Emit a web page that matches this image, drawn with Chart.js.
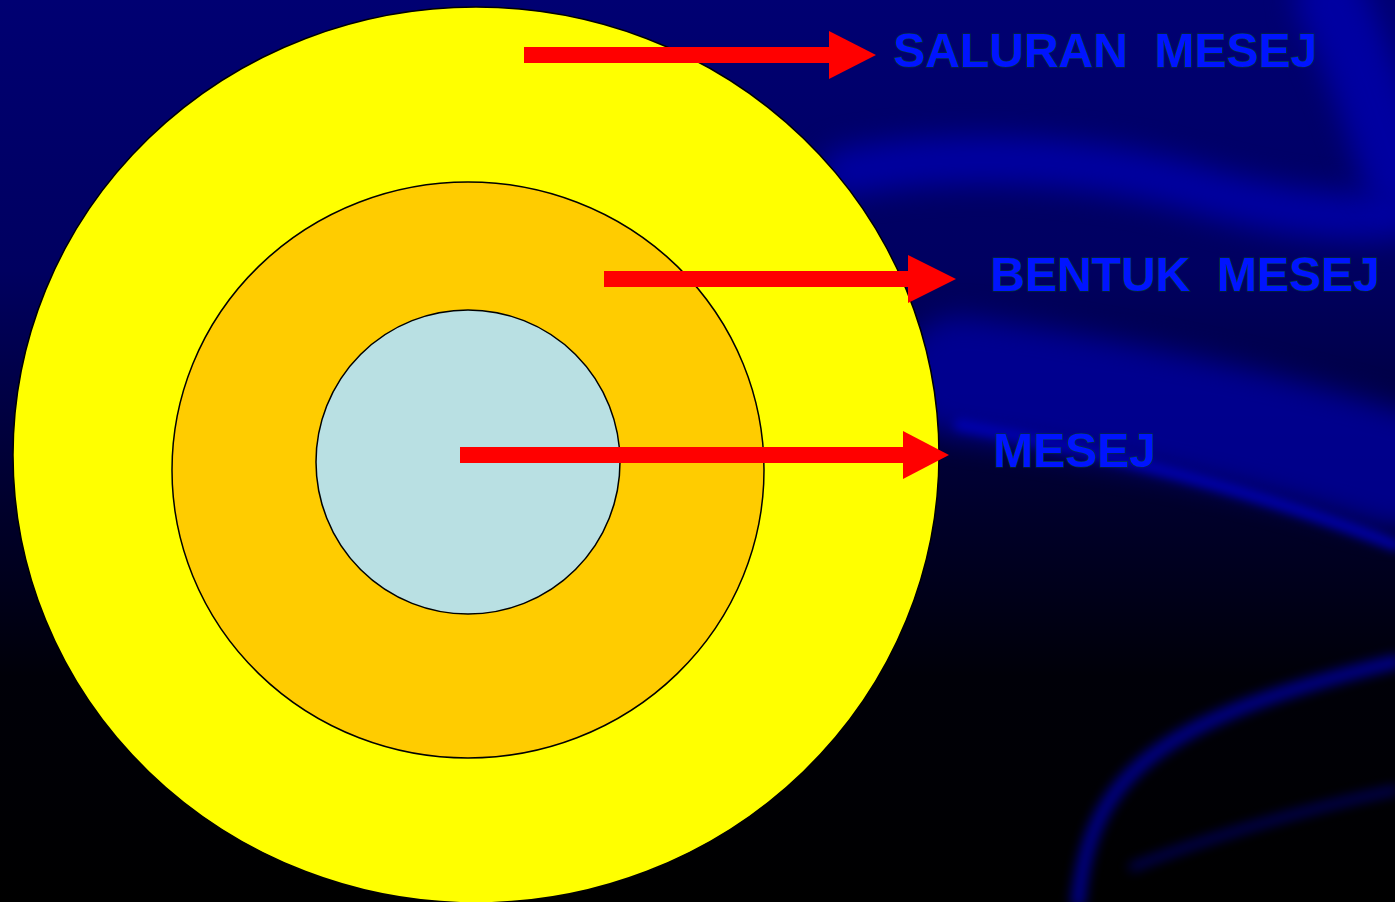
<!DOCTYPE html>
<html>
<head>
<meta charset="utf-8">
<title>Mesej</title>
<script src="https://cdn.jsdelivr.net/npm/chart.js@4.4.1/dist/chart.umd.min.js"></script>
<style>
  html, body { margin: 0; padding: 0; background: #000; overflow: hidden; }
  #wrap { width: 1395px; height: 902px; position: relative; }
</style>
</head>
<body>
<div id="wrap"><canvas id="mesej-chart"></canvas></div>
<script>
// rings (outer -> inner), values in axis units
const ringCenterX = [476, 468, 468];
const ringCenterY = [455, 470, 462];
const ringRadiusX = [463, 296, 152];
const ringRadiusY = [448, 288, 152];
const ringColors = ['#ffff00', '#ffcc00', '#b9e0e3'];

// arrows
const arrowStartX = [524, 604, 460];
const arrowHeadX = [829, 908, 903];
const arrowTipX = [876, 956, 949];
const arrowY = [55, 279, 455];

// labels
const labelText = ['SALURAN  MESEJ', 'BENTUK  MESEJ', 'MESEJ'];
const labelX = [893, 990, 993];
const labelY = [67, 291, 467];

const W = 1395, H = 902;

// background: dark blue slide with blurred swooshes
const backgroundPlugin = {
  id: 'slideBackground',
  beforeDraw(chart) {
    const ctx = chart.ctx;
    ctx.save();
    const g = ctx.createLinearGradient(0, 0, 0, H);
    g.addColorStop(0, '#000072');
    g.addColorStop(0.3, '#000060');
    g.addColorStop(0.55, '#00002e');
    g.addColorStop(0.75, '#000008');
    g.addColorStop(1, '#000000');
    ctx.fillStyle = g;
    ctx.fillRect(0, 0, W, H);

    ctx.filter = 'blur(14px)';
    ctx.lineCap = 'round';
    // upper swoosh
    ctx.strokeStyle = 'rgba(0,0,170,0.85)';
    ctx.lineWidth = 48;
    ctx.beginPath();
    ctx.moveTo(845, 172);
    ctx.bezierCurveTo(960, 150, 1100, 160, 1200, 190);
    ctx.bezierCurveTo(1290, 215, 1350, 220, 1395, 215);
    ctx.stroke();
    ctx.lineWidth = 70;
    ctx.beginPath();
    ctx.moveTo(1330, 0);
    ctx.bezierCurveTo(1360, 60, 1380, 120, 1395, 170);
    ctx.stroke();
    // middle band
    ctx.strokeStyle = 'rgba(0,0,160,0.8)';
    ctx.lineWidth = 120;
    ctx.beginPath();
    ctx.moveTo(960, 375);
    ctx.bezierCurveTo(1100, 395, 1250, 425, 1395, 470);
    ctx.stroke();
    ctx.strokeStyle = 'rgba(0,0,185,0.8)';
    ctx.lineWidth = 12;
    ctx.filter = 'blur(5px)';
    ctx.beginPath();
    ctx.moveTo(960, 425);
    ctx.bezierCurveTo(1100, 450, 1270, 495, 1395, 545);
    ctx.stroke();
    // lower arc
    ctx.filter = 'blur(6px)';
    ctx.strokeStyle = 'rgba(0,0,190,0.7)';
    ctx.lineWidth = 14;
    ctx.beginPath();
    ctx.moveTo(1078, 902);
    ctx.bezierCurveTo(1090, 780, 1150, 720, 1395, 662);
    ctx.stroke();
    ctx.strokeStyle = 'rgba(0,0,170,0.55)';
    ctx.lineWidth = 8;
    ctx.beginPath();
    ctx.moveTo(1133, 867);
    ctx.bezierCurveTo(1200, 840, 1300, 810, 1395, 790);
    ctx.stroke();
    ctx.restore();
  }
};

// concentric rings drawn through the scales
const ringsPlugin = {
  id: 'rings',
  beforeDatasetsDraw(chart) {
    const ctx = chart.ctx;
    const x = chart.scales.x, y = chart.scales.y;
    ctx.save();
    ringCenterX.forEach((cx, i) => {
      const px = x.getPixelForValue(cx);
      const py = y.getPixelForValue(ringCenterY[i]);
      const rx = Math.abs(x.getPixelForValue(cx + ringRadiusX[i]) - px);
      const ry = Math.abs(y.getPixelForValue(ringCenterY[i] + ringRadiusY[i]) - py);
      ctx.beginPath();
      ctx.ellipse(px, py, rx, ry, 0, 0, Math.PI * 2);
      ctx.fillStyle = ringColors[i];
      ctx.fill();
      ctx.lineWidth = 1.5;
      ctx.strokeStyle = '#000';
      ctx.stroke();
    });
    ctx.restore();
  }
};

// labels next to the arrow tips
const labelsPlugin = {
  id: 'ringLabels',
  afterDatasetsDraw(chart) {
    const ctx = chart.ctx;
    const x = chart.scales.x, y = chart.scales.y;
    ctx.save();
    ctx.font = 'bold 48px "Liberation Sans", Arial, sans-serif';
    ctx.textAlign = 'left';
    ctx.textBaseline = 'alphabetic';
    labelText.forEach((t, i) => {
      const px = x.getPixelForValue(labelX[i]);
      const py = y.getPixelForValue(labelY[i]);
      ctx.lineWidth = 1.2;
      ctx.strokeStyle = 'rgba(0,70,40,0.9)';
      ctx.strokeText(t, px, py);
      ctx.fillStyle = '#0014ff';
      ctx.fillText(t, px, py);
    });
    ctx.restore();
  }
};

const datasets = [];
arrowY.forEach((ay, i) => {
  // shaft
  datasets.push({
    type: 'line',
    data: [{ x: arrowStartX[i], y: ay }, { x: arrowHeadX[i] + 2, y: ay }],
    borderColor: '#ff0000',
    borderWidth: 16,
    borderCapStyle: 'butt',
    pointRadius: 0,
    fill: false
  });
  // head
  datasets.push({
    type: 'line',
    data: [
      { x: arrowHeadX[i], y: ay - 24 },
      { x: arrowTipX[i], y: ay },
      { x: arrowHeadX[i], y: ay + 24 }
    ],
    borderColor: '#ff0000',
    backgroundColor: '#ff0000',
    borderWidth: 0,
    pointRadius: 0,
    tension: 0,
    fill: 'shape'
  });
});

new Chart(document.getElementById('mesej-chart'), {
  type: 'scatter',
  data: { datasets },
  options: {
    responsive: true,
    maintainAspectRatio: false,
    animation: false,
    layout: { padding: 0 },
    plugins: { legend: { display: false }, tooltip: { enabled: false } },
    scales: {
      x: { type: 'linear', min: 0, max: W, display: false },
      y: { type: 'linear', min: 0, max: H, reverse: true, display: false }
    }
  },
  plugins: [backgroundPlugin, ringsPlugin, labelsPlugin]
});
</script>
</body>
</html>
